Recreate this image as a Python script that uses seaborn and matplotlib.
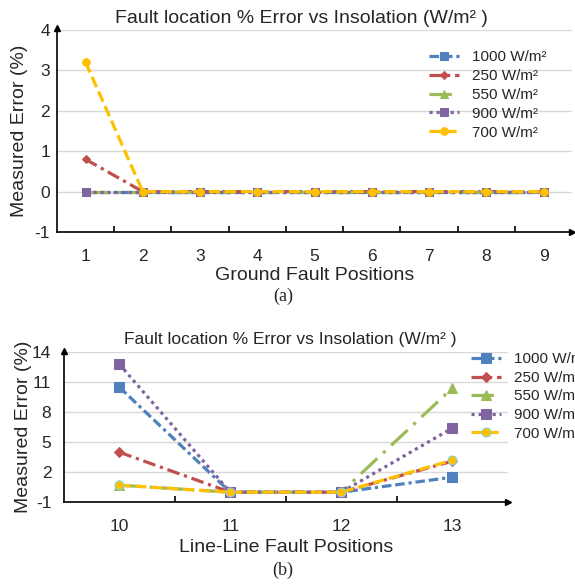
import matplotlib
matplotlib.use("Agg")
import matplotlib.pyplot as plt
import seaborn as sns

sns.set_theme(style="white")
plt.rcParams["font.family"] = ["Liberation Sans", "DejaVu Sans"]
plt.rcParams["axes.unicode_minus"] = False

# ground fault chart (a)
ground_pos = [1, 2, 3, 4, 5, 6, 7, 8, 9]
ground_1000 = [0, 0, 0, 0, 0, 0, 0, 0, 0]
ground_250 = [0.8, 0, 0, 0, 0, 0, 0, 0, 0]
ground_550 = [0, 0, 0, 0, 0, 0, 0, 0, 0]
ground_900 = [0, 0, 0, 0, 0, 0, 0, 0, 0]
ground_700 = [3.2, 0, 0, 0, 0, 0, 0, 0, 0]

# line-line fault chart (b)
ll_pos = [10, 11, 12, 13]
ll_1000 = [10.5, 0, 0, 1.5]
ll_250 = [4.0, 0, 0, 3.1]
ll_550 = [0.7, 0, 0, 10.4]
ll_900 = [12.8, 0, 0, 6.4]
ll_700 = [0.7, 0, 0, 3.2]

labels = ["1000 W/m²", "250 W/m²", "550 W/m²", "900 W/m²", "700 W/m²"]
colors = ["#4F81BD", "#C0504D", "#9BBB59", "#8064A2", "#FFC000"]
markers = ["s", "D", "^", "s", "o"]
msizes = [5.5, 4, 5.5, 5.5, 5.5]
styles = [(0, (3, 1.2, 3, 1.2, 1, 1.2)), (0, (4, 1.5, 1, 1.5)),
          (0, (7, 2.5, 1, 2.5)), (0, (1, 1.2)), (0, (3.5, 1.5))]

title = "Fault location % Error vs Insolation (W/m² )"

fig = plt.figure(figsize=(5.75, 5.86), dpi=100)
ax1 = fig.add_axes([0.099, 0.604, 0.896, 0.345])
ax2 = fig.add_axes([0.111, 0.143, 0.772, 0.256])


def style_axes(ax, xlim, ylim, yticks, xticks, xpad, ypad):
    ax.set_xlim(*xlim)
    ax.set_ylim(*ylim)
    ax.set_yticks(yticks)
    ax.set_xticks(xticks)
    ax.set_xticks([x + 0.5 for x in xticks[:-1]], minor=True)
    ax.yaxis.grid(True, color="#D9D9D9", lw=1)
    ax.xaxis.grid(False)
    for s in ["top", "right"]:
        ax.spines[s].set_visible(False)
    for s in ["left", "bottom"]:
        ax.spines[s].set_color("black")
        ax.spines[s].set_linewidth(1.2)
    ax.tick_params(axis="x", which="major", length=0, pad=xpad, labelsize=12.5)
    ax.tick_params(axis="x", which="minor", length=4, width=1.2, color="black",
                   direction="in", bottom=True)
    ax.tick_params(axis="y", length=0, pad=ypad, labelsize=12.5)
    ax.plot(0, 1.01, marker="^", color="black", ms=4,
            transform=ax.transAxes, clip_on=False)
    ax.plot(1.0, 0, marker=">", color="black", ms=4,
            transform=ax.transAxes, clip_on=False)


ground = [ground_1000, ground_250, ground_550, ground_900, ground_700]
for vals, lab, c, m, s, ls in zip(ground, labels, colors, markers, msizes, styles):
    sns.lineplot(x=ground_pos, y=vals, ax=ax1, color=c, marker=m, ms=s,
                 markeredgecolor=c, linestyle=ls, lw=2.3, label=lab)

style_axes(ax1, (0.5, 9.5), (-1, 4), [-1, 0, 1, 2, 3, 4], ground_pos, 12, 5)
ax1.set_title(title, fontsize=14, pad=5, x=0.474)
ax1.set_xlabel("Ground Fault Positions", fontsize=14, labelpad=2)
ax1.set_ylabel("Measured Error (%)", fontsize=14, labelpad=5)
ax1.legend(loc="upper left", bbox_to_anchor=(0.71, 0.93), frameon=False,
           fontsize=11, handlelength=2.0, labelspacing=0.32,
           handletextpad=0.8, borderaxespad=0)

ll = [ll_1000, ll_250, ll_550, ll_900, ll_700]
for i, (vals, lab, c, m, s, ls) in enumerate(zip(ll, labels, colors, markers, msizes, styles)):
    edge = "#7FD1E8" if i == 4 else c
    sns.lineplot(x=ll_pos, y=vals, ax=ax2, color=c, marker=m, ms=s + 1,
                 markeredgecolor=edge, linestyle=ls, lw=2.3, label=lab)

style_axes(ax2, (9.5, 13.5), (-1, 14), [-1, 2, 5, 8, 11, 14], ll_pos, 12, 9)
ax2.set_title(title, fontsize=12.5, pad=6, x=0.509)
ax2.set_xlabel("Line-Line Fault Positions", fontsize=14, labelpad=4)
ax2.set_ylabel("Measured Error (%)", fontsize=14, labelpad=0)
ax2.legend(loc="upper left", bbox_to_anchor=(0.903, 1.04), frameon=False,
           fontsize=11, handlelength=2.0, labelspacing=0.3,
           handletextpad=0.8, borderaxespad=0)

fig.text(0.492, 0.494, "(a)", family="Liberation Serif", fontsize=13,
         ha="center", va="center")
fig.text(0.492, 0.027, "(b)", family="Liberation Serif", fontsize=13,
         ha="center", va="center")

fig.savefig("out.png", dpi=100)
plt.close(fig)
